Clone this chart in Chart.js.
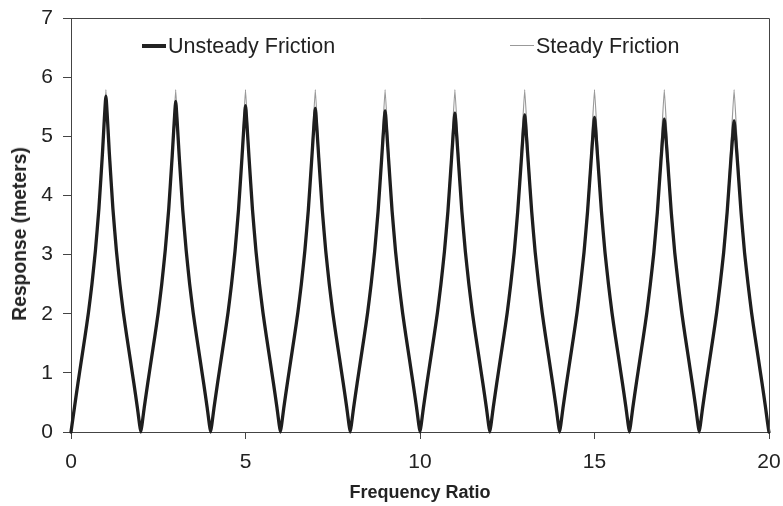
<!DOCTYPE html>
<html><head><meta charset="utf-8">
<script src="https://cdn.jsdelivr.net/npm/chart.js@4"></script>
<style>
html,body{margin:0;padding:0;background:#fff;}
#wrap{position:relative;width:783px;height:506px;overflow:hidden;}
canvas{position:absolute;left:0;top:0;}
.leg{position:absolute;font:21.5px "Liberation Sans",Arial,sans-serif;color:#222;line-height:24px;white-space:nowrap;}
.sw{position:absolute;}
#ytitle{position:absolute;left:20px;top:234px;transform:translate(-50%,-50%) rotate(-90deg);font:bold 19.3px "Liberation Sans",Arial,sans-serif;color:#222;white-space:nowrap;line-height:22px;}
</style></head><body>
<div id="wrap"><canvas id="c" width="783" height="506"></canvas>
<div class="sw" style="left:142px;top:44px;width:24px;height:4px;background:#222"></div>
<div class="leg" style="left:168px;top:34px">Unsteady Friction</div>
<div class="sw" style="left:510px;top:45px;width:24px;height:1px;background:#999"></div>
<div class="leg" style="left:536px;top:34px">Steady Friction</div>
<div id="ytitle">Response (meters)</div>
</div>
<script>
const frequencyRatio = [
 0,0.1,0.2,0.3,0.4,0.5,0.6,0.7,0.8,0.9,1,1.1,1.2,1.3,1.4,1.5,1.6,1.7,1.8,1.9,
 2,2.1,2.2,2.3,2.4,2.5,2.6,2.7,2.8,2.9,3,3.1,3.2,3.3,3.4,3.5,3.6,3.7,3.8,3.9,
 4,4.1,4.2,4.3,4.4,4.5,4.6,4.7,4.8,4.9,5,5.1,5.2,5.3,5.4,5.5,5.6,5.7,5.8,5.9,
 6,6.1,6.2,6.3,6.4,6.5,6.6,6.7,6.8,6.9,7,7.1,7.2,7.3,7.4,7.5,7.6,7.7,7.8,7.9,
 8,8.1,8.2,8.3,8.4,8.5,8.6,8.7,8.8,8.9,9,9.1,9.2,9.3,9.4,9.5,9.6,9.7,9.8,9.9,
 10,10.1,10.2,10.3,10.4,10.5,10.6,10.7,10.8,10.9,11,11.1,11.2,11.3,11.4,11.5,11.6,11.7,11.8,11.9,
 12,12.1,12.2,12.3,12.4,12.5,12.6,12.7,12.8,12.9,13,13.1,13.2,13.3,13.4,13.5,13.6,13.7,13.8,13.9,
 14,14.1,14.2,14.3,14.4,14.5,14.6,14.7,14.8,14.9,15,15.1,15.2,15.3,15.4,15.5,15.6,15.7,15.8,15.9,
 16,16.1,16.2,16.3,16.4,16.5,16.6,16.7,16.8,16.9,17,17.1,17.2,17.3,17.4,17.5,17.6,17.7,17.8,17.9,
 18,18.1,18.2,18.3,18.4,18.5,18.6,18.7,18.8,18.9,19,19.1,19.2,19.3,19.4,19.5,19.6,19.7,19.8,19.9,
 20,20.05
];
const steadyFriction = [
 0,0.42,0.83,1.22,1.61,2.02,2.5,3.08,3.8,4.75,5.79,4.75,3.8,3.08,2.5,2.02,1.61,1.22,0.83,0.42,
 0,0.42,0.83,1.22,1.61,2.02,2.5,3.08,3.8,4.75,5.79,4.75,3.8,3.08,2.5,2.02,1.61,1.22,0.83,0.42,
 0,0.42,0.83,1.22,1.61,2.02,2.5,3.08,3.8,4.75,5.79,4.75,3.8,3.08,2.5,2.02,1.61,1.22,0.83,0.42,
 0,0.42,0.83,1.22,1.61,2.02,2.5,3.08,3.8,4.75,5.79,4.75,3.8,3.08,2.5,2.02,1.61,1.22,0.83,0.42,
 0,0.42,0.83,1.22,1.61,2.02,2.5,3.08,3.8,4.75,5.79,4.75,3.8,3.08,2.5,2.02,1.61,1.22,0.83,0.42,
 0,0.42,0.83,1.22,1.61,2.02,2.5,3.08,3.8,4.75,5.79,4.75,3.8,3.08,2.5,2.02,1.61,1.22,0.83,0.42,
 0,0.42,0.83,1.22,1.61,2.02,2.5,3.08,3.8,4.75,5.79,4.75,3.8,3.08,2.5,2.02,1.61,1.22,0.83,0.42,
 0,0.42,0.83,1.22,1.61,2.02,2.5,3.08,3.8,4.75,5.79,4.75,3.8,3.08,2.5,2.02,1.61,1.22,0.83,0.42,
 0,0.42,0.83,1.22,1.61,2.02,2.5,3.08,3.8,4.75,5.79,4.75,3.8,3.08,2.5,2.02,1.61,1.22,0.83,0.42,
 0,0.42,0.83,1.22,1.61,2.02,2.5,3.08,3.8,4.75,5.79,4.75,3.8,3.08,2.5,2.02,1.61,1.22,0.83,0.42,
 0
];
const unsteadyFriction = [
 0,0.42,0.83,1.22,1.61,2.02,2.5,3.07,3.78,4.70,5.68,4.70,3.78,3.07,2.5,2.02,1.61,1.22,0.83,0.42,
 0,0.42,0.83,1.22,1.61,2.02,2.5,3.07,3.77,4.67,5.59,4.67,3.77,3.07,2.5,2.02,1.61,1.22,0.83,0.42,
 0,0.42,0.83,1.22,1.61,2.02,2.5,3.06,3.76,4.65,5.52,4.65,3.76,3.06,2.5,2.02,1.61,1.22,0.83,0.42,
 0,0.42,0.83,1.22,1.61,2.02,2.5,3.06,3.75,4.63,5.47,4.63,3.75,3.06,2.5,2.02,1.61,1.22,0.83,0.42,
 0,0.42,0.83,1.22,1.61,2.02,2.5,3.05,3.74,4.61,5.43,4.61,3.74,3.05,2.5,2.02,1.61,1.22,0.83,0.42,
 0,0.42,0.83,1.22,1.61,2.02,2.5,3.05,3.73,4.59,5.39,4.59,3.73,3.05,2.5,2.02,1.61,1.22,0.83,0.42,
 0,0.42,0.83,1.22,1.61,2.02,2.5,3.04,3.73,4.57,5.36,4.57,3.73,3.04,2.5,2.02,1.61,1.22,0.83,0.42,
 0,0.42,0.83,1.22,1.61,2.02,2.5,3.04,3.72,4.56,5.32,4.56,3.72,3.04,2.5,2.02,1.61,1.22,0.83,0.42,
 0,0.42,0.83,1.22,1.61,2.02,2.5,3.03,3.71,4.55,5.29,4.55,3.71,3.03,2.5,2.02,1.61,1.22,0.83,0.42,
 0,0.42,0.83,1.22,1.61,2.02,2.5,3.03,3.71,4.54,5.26,4.54,3.71,3.03,2.5,2.02,1.61,1.22,0.83,0.42,
 0,0.26
];
const xTicks = [0,5,10,15,20];
const yTicks = [0,1,2,3,4,5,6,7];

const FONT = '"Liberation Sans", Arial, sans-serif';
const toPts = ys => ys.map((y,i)=>({x:frequencyRatio[i], y}));

const frame = {id:'frame', afterDraw(c){
  const {ctx, chartArea:a} = c;
  ctx.save(); ctx.strokeStyle='#444'; ctx.lineWidth=1;
  ctx.beginPath();
  ctx.moveTo(Math.round(a.left), Math.round(a.top)+0.5);
  ctx.lineTo(Math.round(a.right)+0.5, Math.round(a.top)+0.5);
  ctx.lineTo(Math.round(a.right)+0.5, Math.round(a.bottom));
  ctx.stroke(); ctx.restore();
}};

new Chart(document.getElementById('c'), {
  type:'line',
  data:{datasets:[
    {label:'Unsteady Friction', data:toPts(unsteadyFriction), borderColor:'#1e1e1e', borderWidth:3.3, pointRadius:0, tension:0.12, borderJoinStyle:'round', borderCapStyle:'round', clip:false},
    {label:'Steady Friction', data:toPts(steadyFriction), borderColor:'#9a9a9a', borderWidth:1.2, pointRadius:0, tension:0.12, borderJoinStyle:'round'}
  ]},
  options:{
    responsive:false, animation:false, devicePixelRatio:1,
    layout:{padding:{left:0,right:14,top:18,bottom:0}},
    plugins:{legend:{display:false}, tooltip:{enabled:false}},
    scales:{
      x:{type:'linear', min:0, max:20,
        afterBuildTicks(s){ s.ticks = xTicks.map(v=>({value:v})); },
        ticks:{font:{size:21,family:FONT}, color:'#222', padding:11, maxRotation:0, autoSkip:false},
        grid:{drawOnChartArea:false, drawTicks:true, tickLength:7, color:'#444'},
        border:{color:'#444', width:1},
        title:{display:true, text:'Frequency Ratio', font:{size:18,weight:'bold',family:FONT}, color:'#222', padding:{top:0,bottom:2}},
        afterFit(s){ s.height = 74; s.paddingLeft = 0; s.paddingRight = 0; }
      },
      y:{min:0, max:7,
        afterBuildTicks(s){ s.ticks = yTicks.map(v=>({value:v})); },
        ticks:{font:{size:21,family:FONT}, color:'#222', padding:10, autoSkip:false},
        grid:{drawOnChartArea:false, drawTicks:true, tickLength:8, color:'#444'},
        border:{color:'#444', width:1},
        title:{display:false, text:'Response (meters)'},
        afterFit(s){ s.width = 71; s.paddingTop = 0; s.paddingBottom = 0; }
      }
    }
  },
  plugins:[frame]
});
</script>
</body></html>
